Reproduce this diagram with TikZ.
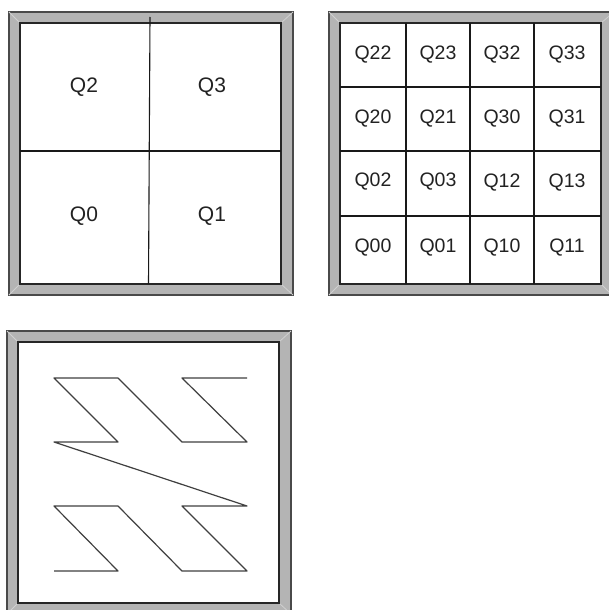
\documentclass[tikz,border=0pt]{standalone}
\usepackage{fontspec}
\setmainfont{Liberation Sans}
\definecolor{framegray}{HTML}{B4B4B4}
\definecolor{frameline}{HTML}{4A4A4A}
\definecolor{bevel}{HTML}{D0D0D0}
\definecolor{txt}{HTML}{222222}
\tikzset{
  outerf/.style={fill=framegray, draw=frameline, line width=1.4pt},
  innerf/.style={fill=white, draw=black!85, line width=1.4pt},
  bev/.style={draw=bevel, line width=0.8pt},
  grid/.style={draw=black!90, line width=1.1pt},
  big/.style={font=\fontsize{21}{25}\selectfont, text=txt, inner sep=0pt},
  small/.style={font=\fontsize{19.5}{23}\selectfont, text=txt, inner sep=0pt},
  zline/.style={draw=black!75, line width=1.2pt, line join=round}
}
\begin{document}
\begin{tikzpicture}[x=1pt,y=-1pt]
\useasboundingbox (0,0) rectangle (609,610);
% ---------- panel 1 ----------
\path[outerf] (9,12) rectangle (293,295);
\draw[bev] (9,12) -- (20,23) (293,12) -- (281,23) (9,295) -- (20,284) (293,295) -- (281,284);
\path[innerf] (20,23) rectangle (281,284);
\draw[grid] (150,17) -- (148.5,284);
\draw[grid] (20,151) -- (281,151);
\node[big] (q2) at (84,87) {Q2};
\node[big] (q3) at (212,87) {Q3};
\node[big] (q0) at (84,216) {Q0};
\node[big] (q1) at (212,216) {Q1};
% ---------- panel 2 ----------
\path[outerf] (329,12) rectangle (614,295);
\draw[bev] (329,12) -- (340,23) (614,12) -- (601,23) (329,295) -- (340,284) (614,297) -- (601,284);
\path[innerf] (340,23) rectangle (601,284);
\foreach \xx in {406,470,534} \draw[grid] (\xx,23) -- (\xx,284);
\foreach \yy in {87,151,216} \draw[grid] (340,\yy) -- (601,\yy);
\node[small] (q22) at (373,55) {Q22};
\node[small] (q23) at (438,55) {Q23};
\node[small] (q32) at (502,55) {Q32};
\node[small] (q33) at (567,55) {Q33};
\node[small] (q20) at (373,119) {Q20};
\node[small] (q21) at (438,119) {Q21};
\node[small] (q30) at (502,119) {Q30};
\node[small] (q31) at (567,119) {Q31};
\node[small] (q02) at (373,182) {Q02};
\node[small] (q03) at (438,182) {Q03};
\node[small] (q12) at (502,183) {Q12};
\node[small] (q13) at (567,183) {Q13};
\node[small] (q00) at (373,248) {Q00};
\node[small] (q01) at (438,248) {Q01};
\node[small] (q10) at (502,248) {Q10};
\node[small] (q11) at (567,248) {Q11};
% ---------- panel 3 ----------
\path[outerf] (7,331) rectangle (291,614);
\draw[bev] (7,331) -- (18,342) (291,331) -- (279,342) (7,614) -- (18,603) (291,614) -- (279,603);
\path[innerf] (18,342) rectangle (279,603);
\draw[zline] (54,571) -- (118,571) -- (54,506) -- (118,506) -- (182,571) -- (247,571)
  -- (182,506) -- (247,506) -- (54,442) -- (118,442) -- (54,378) -- (118,378)
  -- (182,442) -- (247,442) -- (182,378) -- (247,378);
\end{tikzpicture}
\end{document}
